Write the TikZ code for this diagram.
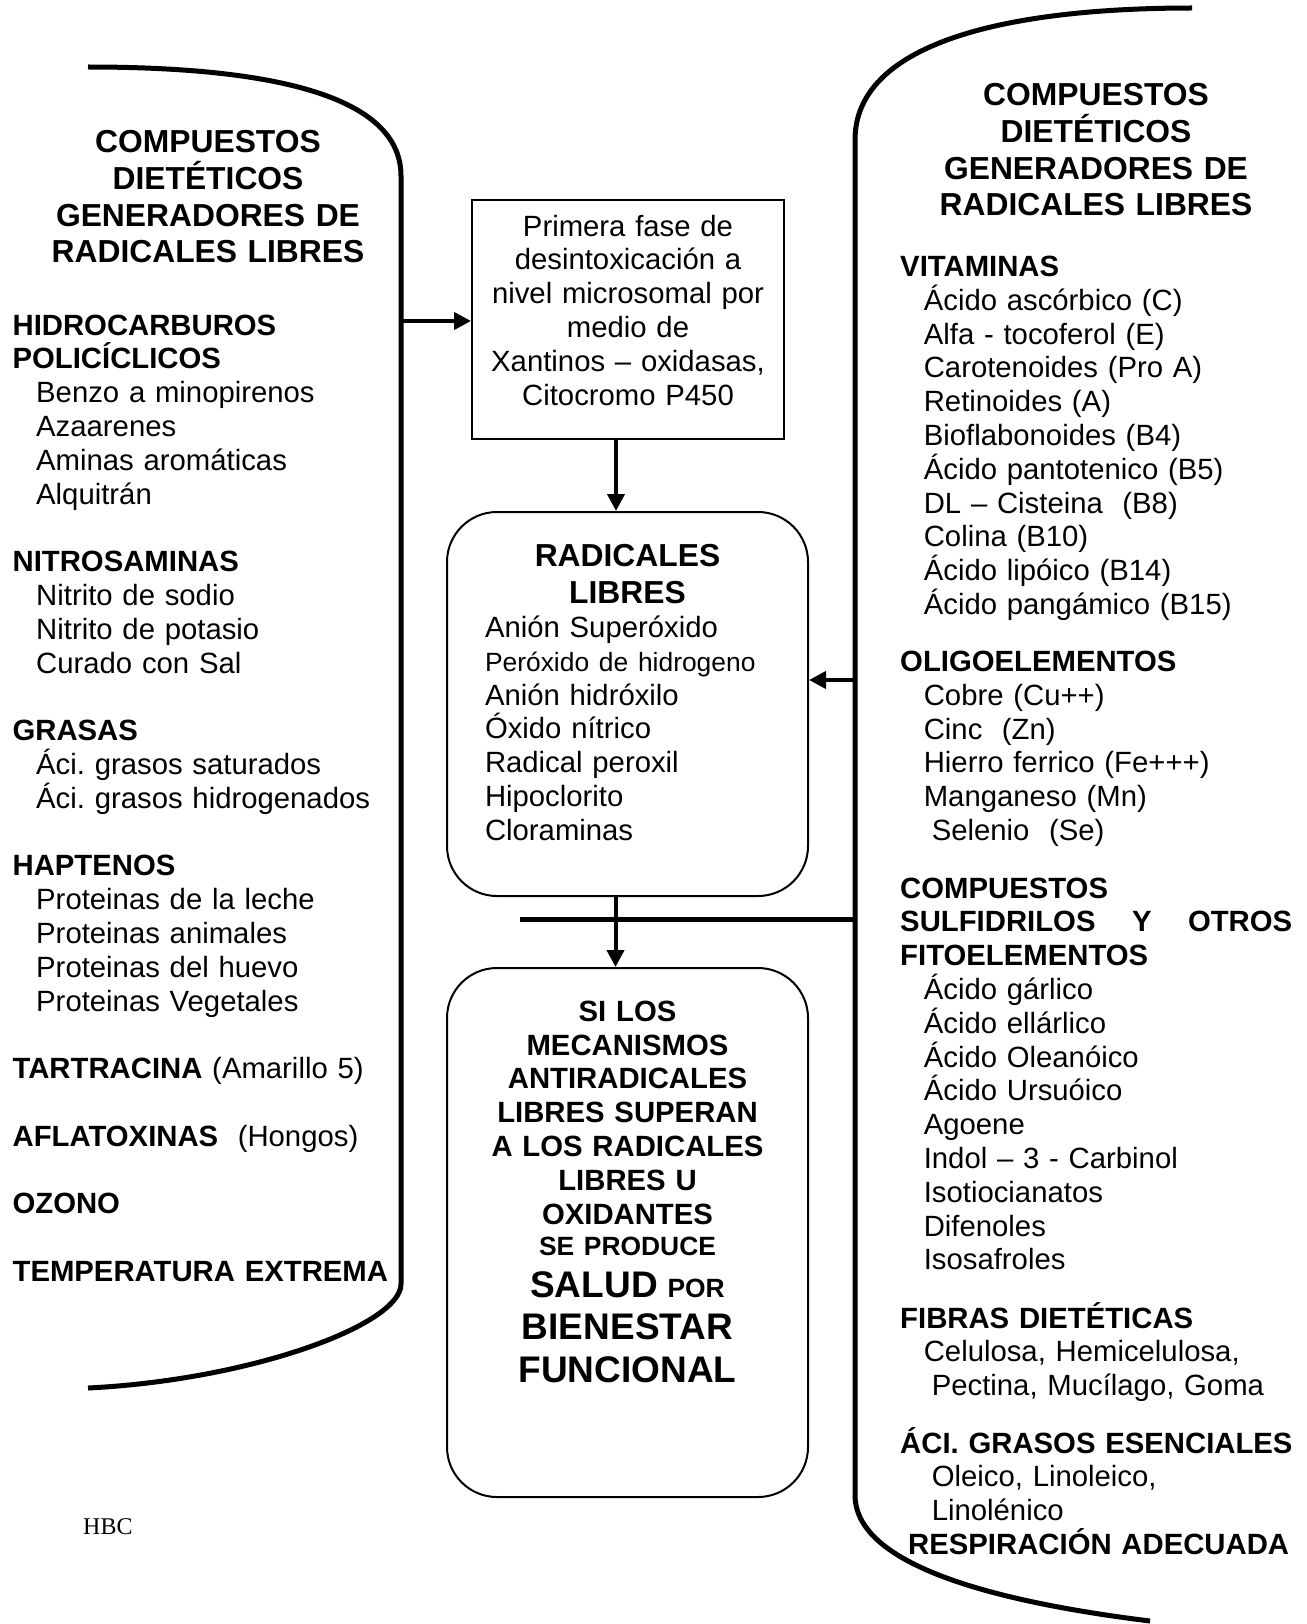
\documentclass[tikz,border=0pt]{standalone}
\usepackage{fontspec}
\setmainfont{Liberation Sans}
\newfontfamily\serifhbc{Liberation Serif}
\usetikzlibrary{arrows.meta}
\frenchspacing
\newcommand{\sangria}{\hspace*{23.6pt}}
\newcommand{\fuentetit}{\bfseries\fontsize{31.8}{36.6}\selectfont}
\newcommand{\fuentegrande}{\fontsize{37}{42}\selectfont}
\newcommand{\fuentechica}{\fontsize{26.4}{30}\selectfont}

\begin{document}
\begin{tikzpicture}[x=1pt, y=-1pt, >={Triangle[length=17pt,width=17pt]},
  every node/.style={inner sep=0pt},
  bracket/.style={line width=5pt},
  flecha/.style={->, line width=4pt},
  titulo/.style={anchor=base, text width=400pt, align=center, font=\fuentetit},
  lista/.style={anchor=base west, text width=400pt, align=left, font=\fontsize{29.3}{33.8}\selectfont},
  caja/.style={draw, line width=2pt, align=center, font=\fontsize{29.3}{33.8}\selectfont},
  redondo/.style={caja, rounded corners=50pt}]
	\useasboundingbox (0,0) rectangle (1306,1624);

	% corchetes
	\draw[bracket] (88,67) .. controls (300,67) and (401,105) .. (401,176) -- (401,1284)
		.. controls (401,1325) and (250,1380) .. (88,1388);
	\draw[bracket] (1192,8) .. controls (1000,8) and (855,45) .. (855,140) -- (855,1495)
		.. controls (855,1535) and (900,1590) .. (1150,1621);

	% columna izquierda
	\node[titulo] (tizq) at (208,153) {COMPUESTOS\\ DIETÉTICOS\\ GENERADORES DE\\ RADICALES LIBRES};
	\node[lista] (hidro) at (12.4,335) {\textbf{HIDROCARBUROS}\\ \textbf{POLICÍCLICOS}\\
		\sangria Benzo a minopirenos\\ \sangria Azaarenes\\ \sangria Aminas aromáticas\\ \sangria Alquitrán};
	\node[lista] (nitro) at (12.4,571.6) {\textbf{NITROSAMINAS}\\
		\sangria Nitrito de sodio\\ \sangria Nitrito de potasio\\ \sangria Curado con Sal};
	\node[lista] (grasas) at (12.4,740.6) {\textbf{GRASAS}\\
		\sangria Áci. grasos saturados\\ \sangria Áci. grasos hidrogenados};
	\node[lista] (hapt) at (12.4,875.8) {\textbf{HAPTENOS}\\
		\sangria Proteinas de la leche\\ \sangria Proteinas animales\\ \sangria Proteinas del huevo\\ \sangria Proteinas Vegetales};
	\node[lista] (tartra) at (12.4,1078.6) {\textbf{TARTRACINA} (Amarillo 5)};
	\node[lista] (afla) at (12.4,1146.2) {\textbf{AFLATOXINAS}\ \ (Hongos)};
	\node[lista] (ozono) at (12.4,1213.8) {\textbf{OZONO}};
	\node[lista] (temp) at (12.4,1281.4) {\textbf{TEMPERATURA EXTREMA}};
	\node[anchor=base west, font=\serifhbc\fontsize{24}{28}\selectfont] (firma) at (83,1534) {HBC};

	% columna derecha
	\node[titulo] (tder) at (1096,106) {COMPUESTOS\\ DIETÉTICOS\\ GENERADORES DE\\ RADICALES LIBRES};
	\node[lista] (vit) at (900,276.5) {\textbf{VITAMINAS}\\
		\sangria Ácido ascórbico (C)\\ \sangria Alfa - tocoferol (E)\\ \sangria Carotenoides (Pro A)\\
		\sangria Retinoides (A)\\ \sangria Bioflabonoides (B4)\\ \sangria Ácido pantotenico (B5)\\
		\sangria DL – Cisteina\ \ (B8)\\ \sangria Colina (B10)\\ \sangria Ácido lipóico (B14)\\
		\sangria Ácido pangámico (B15)};
	\node[lista] (oligo) at (900,671.5) {\textbf{OLIGOELEMENTOS}\\
		\sangria Cobre (Cu++)\\ \sangria Cinc\ \ (Zn)\\ \sangria Hierro ferrico (Fe+++)\\
		\sangria Manganeso (Mn)\\ \sangria\hspace*{8pt}Selenio\ \ (Se)};
	\node[lista] (sulf) at (900,898) {\textbf{COMPUESTOS}\\
		\makebox[392pt]{\bfseries SULFIDRILOS\hfill Y\hfill OTROS}\\ \textbf{FITOELEMENTOS}\\
		\sangria Ácido gárlico\\ \sangria Ácido ellárlico\\ \sangria Ácido Oleanóico\\ \sangria Ácido Ursuóico\\
		\sangria Agoene\\ \sangria Indol – 3 - Carbinol\\ \sangria Isotiocianatos\\ \sangria Difenoles\\
		\sangria Isosafroles};
	\node[lista] (fibras) at (900,1328) {\textbf{FIBRAS DIETÉTICAS}\\
		\sangria Celulosa, Hemicelulosa,\\ \sangria\hspace*{8pt}Pectina, Mucílago, Goma};
	\node[lista] (esenc) at (900,1453) {\textbf{ÁCI. GRASOS ESENCIALES}\\
		\sangria\hspace*{8pt}Oleico, Linoleico,\\ \sangria\hspace*{8pt}Linolénico\\
		\hspace*{8pt}\textbf{RESPIRACIÓN ADECUADA}};

	% cajas centrales
	\node[caja, text width=300pt, minimum width=312pt, minimum height=239pt] (fase) at (628,319.5)
		{Primera fase de\\ desintoxicación a\\ nivel microsomal por\\ medio de\\ Xantinos – oxidasas,\\
		Citocromo P450\rule[-19pt]{0pt}{19pt}};
	\node[redondo, text width=285pt, minimum width=361pt, minimum height=384pt, align=left] (rad) at (627.5,704)
		{\makebox[\linewidth]{\fuentetit RADICALES}\\[3pt] \makebox[\linewidth]{\fuentetit LIBRES}\\
		Anión Superóxido\\ {\fuentechica Peróxido de hidrogeno}\\ Anión hidróxilo\\ Óxido nítrico\\
		Radical peroxil\\ Hipoclorito\\ Cloraminas\rule[-23pt]{0pt}{23pt}};
	\node[redondo, text width=340pt, minimum width=361pt, minimum height=529pt, font=\bfseries\fontsize{29.3}{33.8}\selectfont] (salud) at (627.5,1232.5)
		{SI LOS\\ MECANISMOS\\ ANTIRADICALES\\ LIBRES SUPERAN\\ A LOS RADICALES\\ LIBRES U\\ OXIDANTES\\[-2pt]
		{\fuentechica SE PRODUCE}\\[8pt] {\fuentegrande SALUD} {\fuentechica POR}\\[8pt]
		{\fuentegrande BIENESTAR}\\[9pt] {\fuentegrande FUNCIONAL}\rule[-82pt]{0pt}{82pt}};

	% conectores
	\coordinate (pizq) at (401,321);
	\coordinate (pder) at (855,680);
	\coordinate (cruce) at (520,919);
	\draw[flecha] (pizq) -- (pizq -| fase.west);
	\draw[flecha] ([xshift=-12pt]fase.south) -- ([xshift=-12pt]fase.south |- rad.north);
	\draw[flecha] (pder) -- (pder -| rad.east);
	\draw[line width=5pt] (cruce) -- (cruce -| pder);
	\draw[flecha] ([xshift=-12pt]rad.south) -- ([xshift=-12pt]rad.south |- salud.north);
\end{tikzpicture}
\end{document}
